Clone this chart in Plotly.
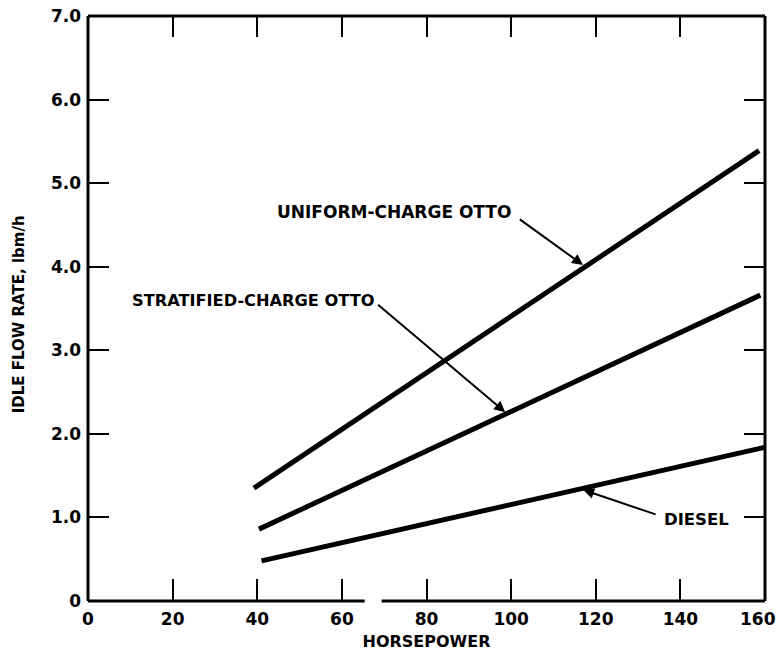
import plotly.graph_objects as go

# ---- data ----
hp_uniform = [39.2, 158.6]
idle_uniform = [1.35, 5.39]
hp_stratified = [40.4, 158.9]
idle_stratified = [0.86, 3.66]
hp_diesel = [41.0, 160.0]
idle_diesel = [0.48, 1.84]

x_tick_vals = [0, 20, 40, 60, 80, 100, 120, 140, 160]
x_tick_text = ["0", "20", "40", "60", "80", "100", "120", "140", "160"]
y_tick_vals = [0, 1, 2, 3, 4, 5, 6, 7]
y_tick_text = ["0", "1.0", "2.0", "3.0", "4.0", "5.0", "6.0", "7.0"]

x_break = [65.4, 69.4]  # gap in the horizontal axis line

labels = ["UNIFORM-CHARGE OTTO", "STRATIFIED-CHARGE OTTO", "DIESEL"]
label_pos = [(44.2, 4.65), (9.9, 3.60), (135.7, 0.98)]
leader_tail = [(101.7, 4.58), (68.2, 3.56), (134.5, 1.03)]
leader_tip = [(117.0, 4.02), (98.6, 2.26), (117.0, 1.33)]

FONT = "DejaVu Sans"
BLACK = "#000000"

fig = go.Figure()
for xs, ys, name in [(hp_uniform, idle_uniform, labels[0]),
                     (hp_stratified, idle_stratified, labels[1]),
                     (hp_diesel, idle_diesel, labels[2])]:
    fig.add_trace(go.Scatter(x=xs, y=ys, mode="lines", name=name,
                             line=dict(color=BLACK, width=5), showlegend=False))

# text labels
label_sizes = [17, 16.2, 16.5]
for (lx, ly), txt, fs in zip(label_pos, labels, label_sizes):
    fig.add_annotation(x=lx, y=ly, xref="x", yref="y", text="<b>%s</b>" % txt,
                       showarrow=False, xanchor="left", yanchor="middle",
                       font=dict(family=FONT, size=fs, color=BLACK))
# leader arrows
for (tx, ty), (hx, hy) in zip(leader_tail, leader_tip):
    fig.add_annotation(x=hx, y=hy, ax=tx, ay=ty, xref="x", yref="y",
                       axref="x", ayref="y", text="", showarrow=True,
                       arrowhead=2, arrowsize=1.1, arrowwidth=2,
                       arrowcolor=BLACK, standoff=0, startstandoff=0)

# y title as annotation
fig.add_annotation(x=-80/677, y=0.49, xref="paper", yref="paper",
                   text="<b>IDLE FLOW RATE, lbm/h</b>", textangle=-90,
                   showarrow=False, xanchor="left", yanchor="middle",
                   font=dict(family=FONT, size=15, color=BLACK))

tickfont = dict(family=FONT, size=17, color=BLACK)

# the last x tick label sits flush with the page edge in the reference
x_tick_shown = ["<b>%s</b>" % t for t in x_tick_text]
x_tick_shown[-1] = ""
fig.add_annotation(x=x_tick_vals[-1], y=0, xref="x", yref="paper",
                   text="<b>%s</b>" % x_tick_text[-1], showarrow=False,
                   xanchor="right", yanchor="top", xshift=13, yshift=-6,
                   font=tickfont)

# frame: left, top, right, bottom (broken)
lw = 3
shapes = [
    dict(type="line", xref="paper", yref="paper", x0=0, x1=0, y0=0, y1=1),
    dict(type="line", xref="paper", yref="paper", x0=0, x1=1, y0=1, y1=1),
    dict(type="line", xref="paper", yref="paper", x0=1, x1=1, y0=0, y1=1),
    dict(type="line", xref="x", yref="paper", x0=0, x1=x_break[0], y0=0, y1=0),
    dict(type="line", xref="x", yref="paper", x0=x_break[1], x1=160, y0=0, y1=0),
]
for s in shapes:
    s["line"] = dict(color=BLACK, width=lw)
    fig.add_shape(**s)

fig.update_layout(
    width=780, height=656,
    margin=dict(l=88, r=15, t=16, b=55),
    paper_bgcolor="white", plot_bgcolor="white",
    xaxis=dict(range=[0, 160], tickvals=x_tick_vals,
               ticktext=x_tick_shown,
               ticks="inside", ticklen=22, tickwidth=2, tickcolor=BLACK,
               showgrid=False, zeroline=False, showline=False,
               tickfont=tickfont, ticklabelstandoff=6,
               ticklabeloverflow="allow", automargin=False,
               title=dict(text="<b>HORSEPOWER</b>", standoff=7,
                          font=dict(family=FONT, size=16, color=BLACK))),
    yaxis=dict(range=[0, 7], tickvals=y_tick_vals,
               ticktext=["<b>%s</b>" % t for t in y_tick_text],
               ticks="inside", ticklen=21, tickwidth=2, tickcolor=BLACK,
               showgrid=False, zeroline=False, showline=False,
               tickfont=tickfont, ticklabelstandoff=6,
               ticklabeloverflow="allow", automargin=False),
    xaxis2=dict(range=[0, 160], tickvals=x_tick_vals, overlaying="x",
                side="top", ticks="inside", ticklen=21, tickwidth=2,
                tickcolor=BLACK, showticklabels=False, showgrid=False,
                zeroline=False, showline=False, automargin=False),
    yaxis2=dict(range=[0, 7], tickvals=y_tick_vals, overlaying="y",
                side="right", ticks="inside", ticklen=21, tickwidth=2,
                tickcolor=BLACK, showticklabels=False, showgrid=False,
                zeroline=False, showline=False, automargin=False),
)
# invisible trace to activate the mirrored axes
fig.add_trace(go.Scatter(x=[0], y=[0], xaxis="x2", yaxis="y2", mode="markers",
                         marker=dict(opacity=0), showlegend=False,
                         hoverinfo="skip"))

fig.write_html("out.html")
